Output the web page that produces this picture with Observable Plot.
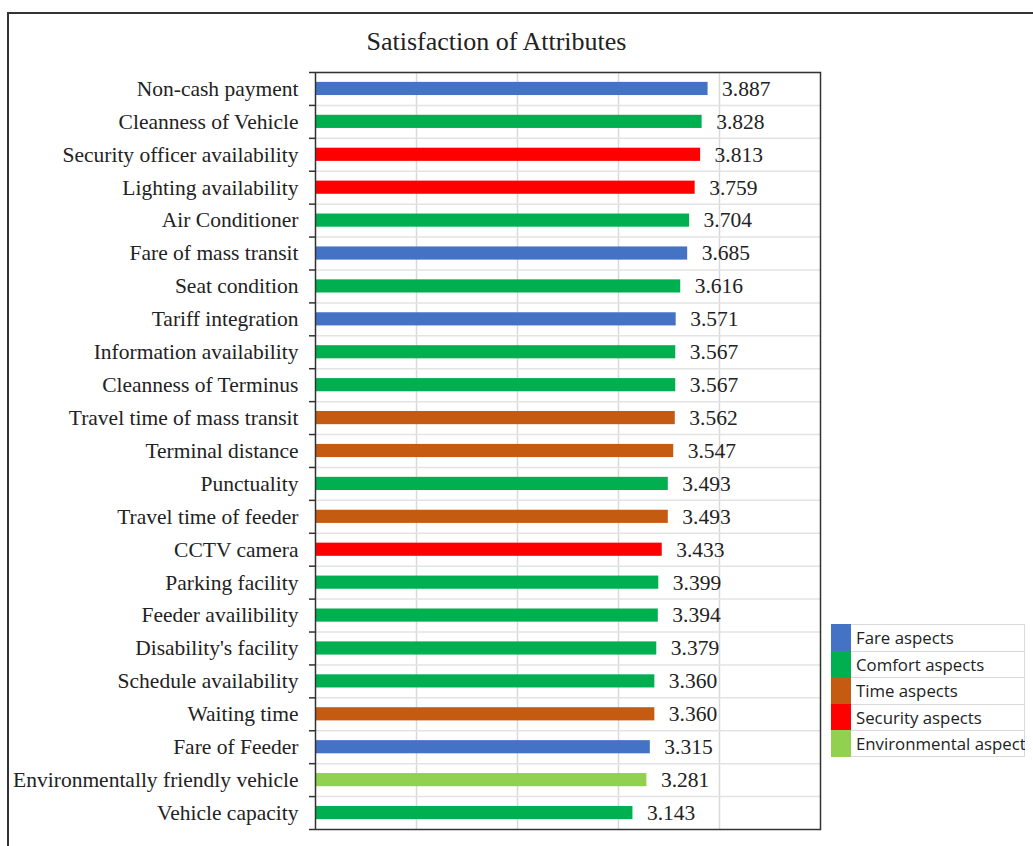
<!DOCTYPE html>
<html>
<head>
<meta charset="utf-8">
<script src="https://cdn.jsdelivr.net/npm/d3@7"></script>
<script src="https://cdn.jsdelivr.net/npm/@observablehq/plot@0.6"></script>
<style>
  html, body { margin: 0; padding: 0; background: #fff; overflow: hidden; }
  #page { position: relative; width: 1033px; height: 846px; overflow: hidden; }
  #outer { position: absolute; left: 7px; top: 12px; width: 1060px; height: 880px; border: 2px solid #333; box-sizing: border-box; }
  #title { position: absolute; left: 0; width: 993px; top: 29px; text-align: center; font-family: "Liberation Serif", serif; font-size: 26px; line-height: 25px; color: #222; }
  #chart { position: absolute; left: 0; top: 0; }
  #legend { position: absolute; left: 831px; top: 624px; width: 194px; overflow: hidden; font-family: "Open Sans", sans-serif; font-size: 16.8px; color: #222; }
  .row { position: relative; height: 26.6px; border: 1px solid #d9d9d9; border-bottom: none; box-sizing: border-box; white-space: nowrap; }
  .row:last-child { border-bottom: 1px solid #d9d9d9; }
  .sw { position: absolute; left: -1px; top: -1px; width: 20px; height: 27.6px; }
  .lab { position: absolute; left: 24px; top: 0px; line-height: 25px; }
</style>
</head>
<body>
<div id="page">
  <div id="outer"></div>
  <div id="title">Satisfaction of Attributes</div>
  <div id="chart"></div>
  <div id="legend"></div>
</div>
<script>
const attributes = [
  "Non-cash payment", "Cleanness of Vehicle", "Security officer availability",
  "Lighting availability", "Air Conditioner", "Fare of mass transit",
  "Seat condition", "Tariff integration", "Information availability",
  "Cleanness of Terminus", "Travel time of mass transit", "Terminal distance",
  "Punctuality", "Travel time of feeder", "CCTV camera", "Parking facility",
  "Feeder availibility", "Disability's facility", "Schedule availability",
  "Waiting time", "Fare of Feeder", "Environmentally friendly vehicle",
  "Vehicle capacity"
];
const scores = [
  3.887, 3.828, 3.813, 3.759, 3.704, 3.685, 3.616, 3.571, 3.567, 3.567,
  3.562, 3.547, 3.493, 3.493, 3.433, 3.399, 3.394, 3.379, 3.360, 3.360,
  3.315, 3.281, 3.143
];
const aspects = [
  "Fare", "Comfort", "Security", "Security", "Comfort", "Fare", "Comfort",
  "Fare", "Comfort", "Comfort", "Time", "Time", "Comfort", "Time",
  "Security", "Comfort", "Comfort", "Comfort", "Comfort", "Time", "Fare",
  "Environmental", "Comfort"
];
const legendNames = ["Fare", "Comfort", "Time", "Security", "Environmental"];
const legendLabels = ["Fare aspects", "Comfort aspects", "Time aspects", "Security aspects", "Environmental aspects"];
const legendColors = ["#4472C4", "#00B050", "#C55A11", "#FF0000", "#92D050"];
const gridValues = [1, 2, 3, 4];

const data = attributes.map((name, i) => ({name, value: scores[i], aspect: aspects[i]}));

const W = 1033, H = 846;
const mTop = 72, mBottom = 17, mLeft = 315, mRight = 213;
const step = (H - mTop - mBottom) / attributes.length;
const barInset = step * 0.3;

const chart = Plot.plot({
  width: W,
  height: H,
  marginTop: mTop,
  marginBottom: mBottom,
  marginLeft: mLeft,
  marginRight: mRight,
  style: {fontFamily: "Liberation Serif, serif", background: "transparent", overflow: "visible"},
  x: {domain: [0, 5], axis: null},
  y: {domain: attributes, padding: 0, round: false, axis: null},
  color: {domain: legendNames, range: legendColors},
  marks: [
    Plot.ruleX(gridValues, {stroke: "#d9d9d9", strokeWidth: 1.5}),
    Plot.ruleY(attributes, {y: d => d, dy: -step / 2, stroke: "#e3e3e3", strokeWidth: 1.5}),
    Plot.barX(data, {x: "value", y: "name", fill: "aspect", insetTop: barInset, insetBottom: barInset}),
    Plot.text(data, {x: "value", y: "name", text: d => d.value.toFixed(3), dx: 14, textAnchor: "start", fontSize: 21.5, fill: "#222"}),
    Plot.axisY({tickSize: 0, tickPadding: 17, fontSize: 21.5, fill: "#222", label: null}),
    Plot.ruleY(attributes, {y: d => d, x1: 0, x2: 0, insetLeft: -6, dy: -step / 2, stroke: "#333", strokeWidth: 1.5}),
    Plot.ruleY(attributes.slice(-1), {y: d => d, x1: 0, x2: 0, insetLeft: -6, dy: step / 2, stroke: "#333", strokeWidth: 1.5}),
    Plot.frame({stroke: "#333", strokeWidth: 1.5})
  ]
});
document.getElementById("chart").appendChild(chart);

const legend = document.getElementById("legend");
legendLabels.forEach((lab, i) => {
  const row = document.createElement("div");
  row.className = "row";
  const sw = document.createElement("div");
  sw.className = "sw";
  sw.style.background = legendColors[i];
  const t = document.createElement("div");
  t.className = "lab";
  t.textContent = lab;
  row.appendChild(sw);
  row.appendChild(t);
  legend.appendChild(row);
});
</script>
</body>
</html>
